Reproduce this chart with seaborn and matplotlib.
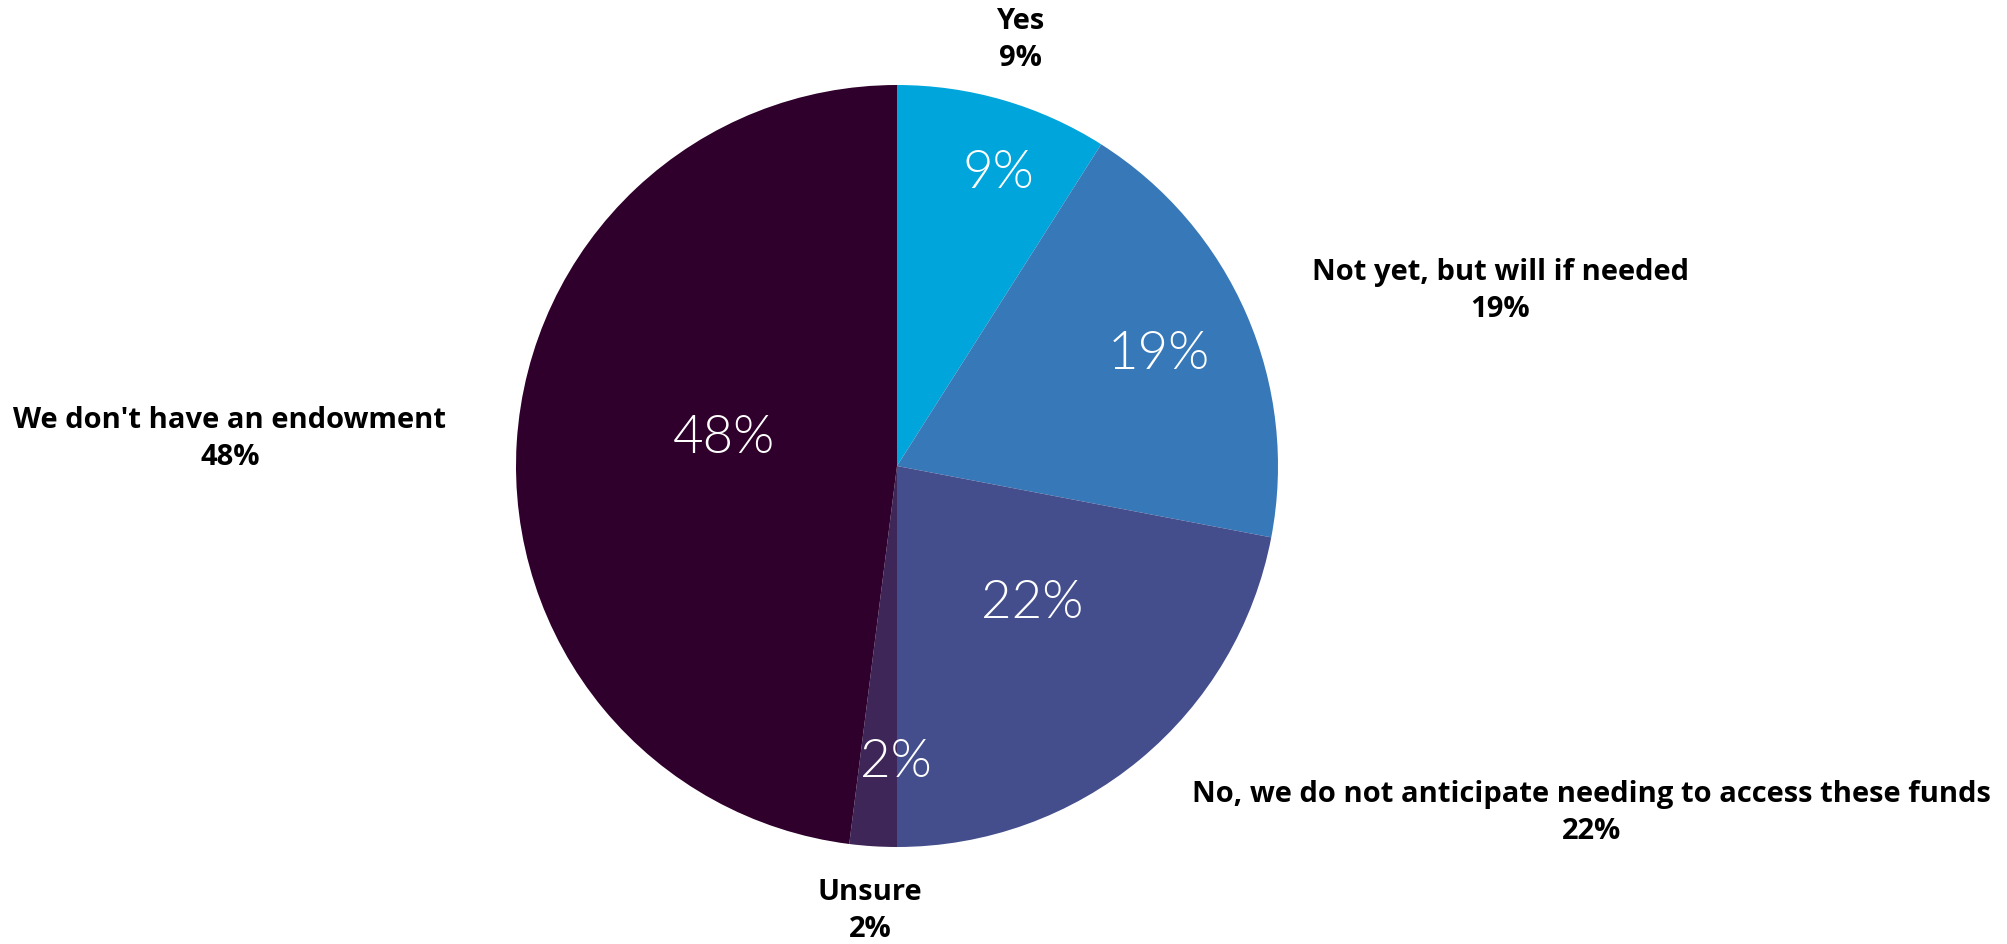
import seaborn as sns
import matplotlib.pyplot as plt

sns.set_theme(style="white")

# Data
categories = ["Yes", "Not yet, but will if needed",
              "No, we do not anticipate needing to access these funds",
              "Unsure", "We don't have an endowment"]
shares = [9, 19, 22, 2, 48]
colors = ["#00A6DB", "#3778B8", "#444E8C", "#3F2659", "#2E002B"]

# Label layout (pie radius = 1, centre at 0,0)
inner_xy = [(0.265, 0.769), (0.686, 0.292), (0.354, -0.362),
            (-0.003, -0.777), (-0.454, 0.073)]
outer_xy = [(0.323, 1.118), (1.583, 0.460), (1.822, -0.911),
            (-0.071, -1.168), (-1.751, 0.071)]

W, H = 2007, 944
fig = plt.figure(figsize=(W / 100, H / 100), dpi=100)
ax = fig.add_axes([0, 0, 1, 1])

cx, cy, r = 897, 466, 381
wedges, _ = ax.pie(shares, colors=colors, startangle=90, counterclock=False,
                   radius=1, wedgeprops=dict(linewidth=0))

for (x, y), v in zip(inner_xy, shares):
    ax.text(x, y, f"{v}%", color="white", ha="center", va="center",
            fontsize=38, family="Lato", fontweight=300)

for (x, y), name, v in zip(outer_xy, categories, shares):
    ax.text(x, y, f"{name}\n{v}%", ha="center", va="center", fontsize=21,
            fontweight="bold", family="Open Sans", linespacing=1.35,
            color="black")

ax.set_xlim(-cx / r, (W - cx) / r)
ax.set_ylim(-(H - cy) / r, cy / r)
ax.set_aspect("auto")
ax.axis("off")

fig.savefig("out.png", dpi=100)
